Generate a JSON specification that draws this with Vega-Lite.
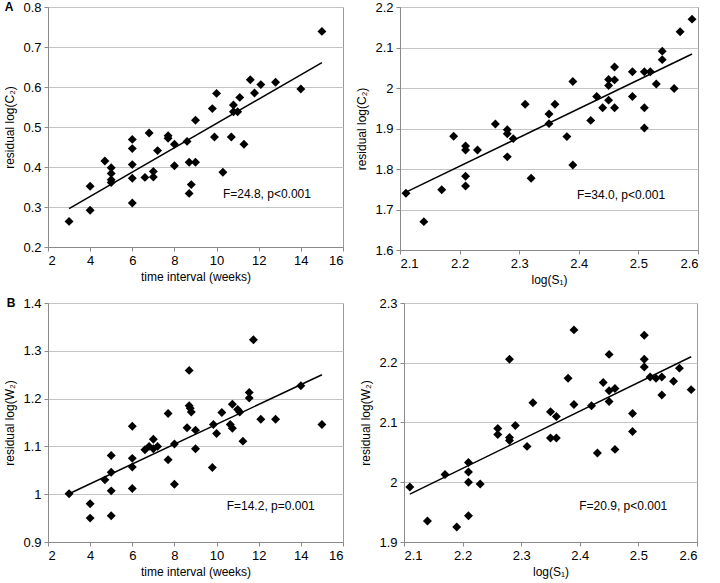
{
  "$schema": "https://vega.github.io/schema/vega-lite/v6.json",
  "background": "white",
  "padding": {"left": 3, "top": 0, "right": 5, "bottom": 4},
  "spacing": 10,
  "config": {
    "font": "Liberation Sans",
    "view": {"stroke": "#9a9a9a", "strokeWidth": 1},
    "axis": {
      "labelFontSize": 13,
      "titleFontSize": 12,
      "titleFontWeight": "normal",
      "labelColor": "#000",
      "titleColor": "#000",
      "domainColor": "#8a8a8a",
      "tickColor": "#8a8a8a",
      "tickSize": 4,
      "labelPadding": 3,
      "gridColor": "#c4c4c4",
      "gridWidth": 1
    },
    "axisX": {"grid": false, "titlePadding": 4},
    "axisY": {"grid": true, "titlePadding": 6}
  },
  "datasets": {
    "AL": [
      {"x": 3, "y": 0.264}, {"x": 4, "y": 0.352}, {"x": 4, "y": 0.292}, {"x": 4.7, "y": 0.415},
      {"x": 5, "y": 0.398}, {"x": 5, "y": 0.384}, {"x": 5, "y": 0.368}, {"x": 5, "y": 0.361},
      {"x": 6, "y": 0.469}, {"x": 6, "y": 0.446}, {"x": 6, "y": 0.406}, {"x": 6, "y": 0.372},
      {"x": 6, "y": 0.31}, {"x": 6.6, "y": 0.374}, {"x": 6.8, "y": 0.485}, {"x": 7, "y": 0.389},
      {"x": 7, "y": 0.375}, {"x": 7.2, "y": 0.441}, {"x": 7.7, "y": 0.478}, {"x": 7.7, "y": 0.472},
      {"x": 8, "y": 0.457}, {"x": 8, "y": 0.403}, {"x": 8.6, "y": 0.464}, {"x": 8.7, "y": 0.412},
      {"x": 8.7, "y": 0.334}, {"x": 8.8, "y": 0.356}, {"x": 9, "y": 0.412}, {"x": 9, "y": 0.517},
      {"x": 9.9, "y": 0.475}, {"x": 9.8, "y": 0.546}, {"x": 10, "y": 0.584}, {"x": 10.3, "y": 0.387},
      {"x": 10.7, "y": 0.475}, {"x": 10.8, "y": 0.555}, {"x": 10.8, "y": 0.538}, {"x": 11, "y": 0.538},
      {"x": 11.1, "y": 0.574}, {"x": 11.3, "y": 0.457}, {"x": 11.6, "y": 0.618}, {"x": 11.8, "y": 0.585},
      {"x": 12.1, "y": 0.606}, {"x": 12.8, "y": 0.612}, {"x": 14, "y": 0.595}, {"x": 15, "y": 0.739}
    ],
    "AR": [
      {"x": 2.11, "y": 1.74}, {"x": 2.14, "y": 1.67}, {"x": 2.17, "y": 1.749}, {"x": 2.19, "y": 1.881},
      {"x": 2.21, "y": 1.857}, {"x": 2.21, "y": 1.847}, {"x": 2.21, "y": 1.782}, {"x": 2.21, "y": 1.758},
      {"x": 2.23, "y": 1.847}, {"x": 2.26, "y": 1.911}, {"x": 2.28, "y": 1.897}, {"x": 2.28, "y": 1.887},
      {"x": 2.28, "y": 1.83}, {"x": 2.29, "y": 1.875}, {"x": 2.31, "y": 1.96}, {"x": 2.32, "y": 1.777},
      {"x": 2.35, "y": 1.936}, {"x": 2.35, "y": 1.912}, {"x": 2.36, "y": 1.96}, {"x": 2.38, "y": 1.88},
      {"x": 2.39, "y": 2.016}, {"x": 2.39, "y": 1.81}, {"x": 2.42, "y": 1.92}, {"x": 2.43, "y": 1.979},
      {"x": 2.44, "y": 1.951}, {"x": 2.45, "y": 2.021}, {"x": 2.45, "y": 2.006}, {"x": 2.45, "y": 1.97},
      {"x": 2.46, "y": 2.052}, {"x": 2.46, "y": 2.02}, {"x": 2.46, "y": 1.951}, {"x": 2.49, "y": 2.04},
      {"x": 2.49, "y": 1.979}, {"x": 2.51, "y": 2.04}, {"x": 2.51, "y": 1.951}, {"x": 2.51, "y": 1.901},
      {"x": 2.52, "y": 2.04}, {"x": 2.53, "y": 2.01}, {"x": 2.54, "y": 2.091}, {"x": 2.54, "y": 2.07},
      {"x": 2.56, "y": 1.999}, {"x": 2.57, "y": 2.139}, {"x": 2.59, "y": 2.17}
    ],
    "BL": [
      {"x": 3, "y": 1.001}, {"x": 4, "y": 0.98}, {"x": 4, "y": 0.95}, {"x": 4.7, "y": 1.03},
      {"x": 5, "y": 1.081}, {"x": 5, "y": 1.046}, {"x": 5, "y": 1.007}, {"x": 5, "y": 0.955},
      {"x": 6, "y": 1.142}, {"x": 6, "y": 1.075}, {"x": 6, "y": 1.057}, {"x": 6, "y": 1.012},
      {"x": 6.6, "y": 1.093}, {"x": 6.8, "y": 1.1}, {"x": 7, "y": 1.115}, {"x": 7, "y": 1.095},
      {"x": 7.2, "y": 1.1}, {"x": 7.7, "y": 1.169}, {"x": 7.7, "y": 1.072}, {"x": 8, "y": 1.105},
      {"x": 8, "y": 1.021}, {"x": 8.6, "y": 1.139}, {"x": 8.7, "y": 1.259}, {"x": 8.7, "y": 1.185},
      {"x": 8.75, "y": 1.18}, {"x": 8.8, "y": 1.172}, {"x": 9, "y": 1.134}, {"x": 9, "y": 1.095},
      {"x": 9.8, "y": 1.056}, {"x": 9.85, "y": 1.146}, {"x": 10, "y": 1.127}, {"x": 10.25, "y": 1.171},
      {"x": 10.65, "y": 1.146}, {"x": 10.75, "y": 1.188}, {"x": 10.75, "y": 1.138}, {"x": 11, "y": 1.177},
      {"x": 11.1, "y": 1.172}, {"x": 11.25, "y": 1.111}, {"x": 11.55, "y": 1.213}, {"x": 11.55, "y": 1.201},
      {"x": 11.75, "y": 1.323}, {"x": 12.1, "y": 1.157}, {"x": 12.8, "y": 1.157}, {"x": 14, "y": 1.227},
      {"x": 15, "y": 1.146}
    ],
    "BR": [
      {"x": 2.11, "y": 1.992}, {"x": 2.14, "y": 1.935}, {"x": 2.17, "y": 2.013}, {"x": 2.19, "y": 1.925},
      {"x": 2.21, "y": 2.033}, {"x": 2.21, "y": 2.017}, {"x": 2.21, "y": 2.0}, {"x": 2.21, "y": 1.944},
      {"x": 2.23, "y": 1.997}, {"x": 2.26, "y": 2.09}, {"x": 2.26, "y": 2.08}, {"x": 2.28, "y": 2.206},
      {"x": 2.28, "y": 2.075}, {"x": 2.28, "y": 2.07}, {"x": 2.29, "y": 2.095}, {"x": 2.31, "y": 2.06},
      {"x": 2.32, "y": 2.133}, {"x": 2.35, "y": 2.118}, {"x": 2.35, "y": 2.074}, {"x": 2.36, "y": 2.11},
      {"x": 2.36, "y": 2.074}, {"x": 2.38, "y": 2.174}, {"x": 2.39, "y": 2.255}, {"x": 2.39, "y": 2.13},
      {"x": 2.42, "y": 2.128}, {"x": 2.43, "y": 2.049}, {"x": 2.44, "y": 2.167}, {"x": 2.45, "y": 2.214},
      {"x": 2.45, "y": 2.153}, {"x": 2.45, "y": 2.135}, {"x": 2.46, "y": 2.157}, {"x": 2.46, "y": 2.055},
      {"x": 2.49, "y": 2.115}, {"x": 2.49, "y": 2.085}, {"x": 2.51, "y": 2.246}, {"x": 2.51, "y": 2.206},
      {"x": 2.51, "y": 2.193}, {"x": 2.52, "y": 2.176}, {"x": 2.53, "y": 2.174}, {"x": 2.54, "y": 2.176},
      {"x": 2.54, "y": 2.146}, {"x": 2.56, "y": 2.169}, {"x": 2.57, "y": 2.191}, {"x": 2.59, "y": 2.155}
    ],
    "AL_fit": [{"x": 3, "y": 0.296}, {"x": 15, "y": 0.661}],
    "AR_fit": [{"x": 2.11, "y": 1.743}, {"x": 2.59, "y": 2.084}],
    "BL_fit": [{"x": 3, "y": 1.001}, {"x": 15, "y": 1.25}],
    "BR_fit": [{"x": 2.11, "y": 1.98}, {"x": 2.59, "y": 2.21}],
    "AL_note": [{"x": 10.3, "y": 0.333, "label": "F=24.8, p<0.001"}],
    "AR_note": [{"x": 2.397, "y": 1.737, "label": "F=34.0, p<0.001"}],
    "BL_note": [{"x": 10.48, "y": 0.975, "label": "F=14.2, p=0.001"}],
    "BR_note": [{"x": 2.399, "y": 1.961, "label": "F=20.9, p<0.001"}],
    "A_tag": [{"x": 0.15, "y": 0.8, "label": "A"}],
    "B_tag": [{"x": 0.25, "y": 1.4, "label": "B"}]
  },
  "vconcat": [
    {
      "bounds": "flush",
      "spacing": 57,
      "hconcat": [
        {
          "width": 295,
          "height": 240,
          "encoding": {
            "x": {"field": "x", "type": "quantitative", "scale": {"domain": [2, 16], "nice": false, "zero": false}, "axis": {"values": [2, 4, 6, 8, 10, 12, 14, 16], "title": "time interval (weeks)"}},
            "y": {"field": "y", "type": "quantitative", "scale": {"domain": [0.2, 0.8], "nice": false, "zero": false}, "axis": {"values": [0.2, 0.3, 0.4, 0.5, 0.6, 0.7, 0.8], "format": ".1~f", "title": "residual log(C₂)"}}
          },
          "layer": [
            {"data": {"name": "AL"}, "mark": {"type": "point", "shape": "diamond", "filled": true, "color": "#000", "opacity": 1, "size": 80}},
            {"data": {"name": "AL_fit"}, "mark": {"type": "line", "color": "#000", "strokeWidth": 1.5}},
            {"data": {"name": "AL_note"}, "mark": {"type": "text", "align": "left", "baseline": "middle", "fontSize": 12, "color": "#000"}, "encoding": {"text": {"field": "label"}}},
            {"data": {"name": "A_tag"}, "mark": {"type": "text", "fontWeight": "bold", "fontSize": 12, "baseline": "middle", "align": "center", "color": "#000", "clip": false}, "encoding": {"text": {"field": "label"}}}
          ]
        },
        {
          "width": 298,
          "height": 243,
          "encoding": {
            "x": {"field": "x", "type": "quantitative", "scale": {"domain": [2.1, 2.6], "nice": false, "zero": false}, "axis": {"values": [2.1, 2.2, 2.3, 2.4, 2.5, 2.6], "format": ".1f", "title": "log(S₁)"}},
            "y": {"field": "y", "type": "quantitative", "scale": {"domain": [1.6, 2.2], "nice": false, "zero": false}, "axis": {"values": [1.6, 1.7, 1.8, 1.9, 2, 2.1, 2.2], "format": ".1~f", "title": "residual log(C₂)"}}
          },
          "layer": [
            {"data": {"name": "AR"}, "mark": {"type": "point", "shape": "diamond", "filled": true, "color": "#000", "opacity": 1, "size": 80}},
            {"data": {"name": "AR_fit"}, "mark": {"type": "line", "color": "#000", "strokeWidth": 1.5}},
            {"data": {"name": "AR_note"}, "mark": {"type": "text", "align": "left", "baseline": "middle", "fontSize": 12, "color": "#000"}, "encoding": {"text": {"field": "label"}}}
          ]
        }
      ]
    },
    {
      "bounds": "flush",
      "spacing": 61,
      "hconcat": [
        {
          "width": 295,
          "height": 239,
          "encoding": {
            "x": {"field": "x", "type": "quantitative", "scale": {"domain": [2, 16], "nice": false, "zero": false}, "axis": {"values": [2, 4, 6, 8, 10, 12, 14, 16], "title": "time interval (weeks)"}},
            "y": {"field": "y", "type": "quantitative", "scale": {"domain": [0.9, 1.4], "nice": false, "zero": false}, "axis": {"values": [0.9, 1, 1.1, 1.2, 1.3, 1.4], "format": ".1~f", "title": "residual log(W₂)"}}
          },
          "layer": [
            {"data": {"name": "BL"}, "mark": {"type": "point", "shape": "diamond", "filled": true, "color": "#000", "opacity": 1, "size": 80}},
            {"data": {"name": "BL_fit"}, "mark": {"type": "line", "color": "#000", "strokeWidth": 1.5}},
            {"data": {"name": "BL_note"}, "mark": {"type": "text", "align": "left", "baseline": "middle", "fontSize": 12, "color": "#000"}, "encoding": {"text": {"field": "label"}}},
            {"data": {"name": "B_tag"}, "mark": {"type": "text", "fontWeight": "bold", "fontSize": 12, "baseline": "middle", "align": "center", "color": "#000", "clip": false}, "encoding": {"text": {"field": "label"}}}
          ]
        },
        {
          "width": 293,
          "height": 239,
          "encoding": {
            "x": {"field": "x", "type": "quantitative", "scale": {"domain": [2.1, 2.6], "nice": false, "zero": false}, "axis": {"values": [2.1, 2.2, 2.3, 2.4, 2.5, 2.6], "format": ".1f", "title": "log(S₁)"}},
            "y": {"field": "y", "type": "quantitative", "scale": {"domain": [1.9, 2.3], "nice": false, "zero": false}, "axis": {"values": [1.9, 2, 2.1, 2.2, 2.3], "format": ".1~f", "title": "residual log(W₂)"}}
          },
          "layer": [
            {"data": {"name": "BR"}, "mark": {"type": "point", "shape": "diamond", "filled": true, "color": "#000", "opacity": 1, "size": 80}},
            {"data": {"name": "BR_fit"}, "mark": {"type": "line", "color": "#000", "strokeWidth": 1.5}},
            {"data": {"name": "BR_note"}, "mark": {"type": "text", "align": "left", "baseline": "middle", "fontSize": 12, "color": "#000"}, "encoding": {"text": {"field": "label"}}}
          ]
        }
      ]
    }
  ]
}
